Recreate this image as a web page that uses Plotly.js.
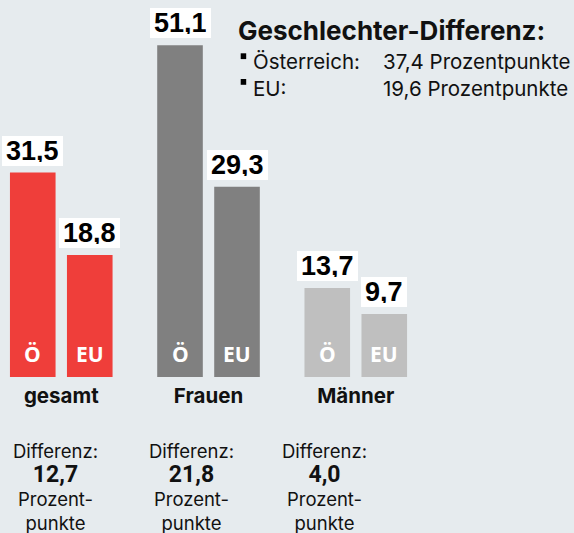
<!DOCTYPE html>
<html><head><meta charset="utf-8">
<script src="https://cdn.plot.ly/plotly-3.0.1.min.js"></script>
<style>html,body{margin:0;padding:0;background:#e6ebee;}</style>
</head><body><div id="chart" style="width:574px;height:533px;"></div>
<script>
const categories = ["gesamt", "Frauen", "Männer"];
const valuesAT = [31.5, 51.1, 13.7];
const valuesEU = [18.8, 29.3, 9.7];
const seriesLabels = ["Ö", "EU"];
const groupColors = ["#ef3e3a", "#808080", "#bfbfbf"];
const titleText = "Geschlechter-Differenz:";
const legendNames = ["Österreich:", "EU:"];
const unitText = "Prozentpunkte";

const W = 574, H = 533, PLOT_H = 377;
const BG = "#e6ebee";
const fmt = v => v.toFixed(1).replace(".", ",");
const px = x => x / W;
const py = y => 1 - y / PLOT_H;

const traces = [valuesAT, valuesEU].map((vals, s) => ({
  type: "bar",
  x: categories,
  y: vals,
  name: seriesLabels[s],
  marker: { color: groupColors },
  hoverinfo: "none",
  showlegend: false
}));

const annotations = [];
const SHIFT = 28.5;
[valuesAT, valuesEU].forEach((vals, s) => {
  vals.forEach((v, i) => {
    annotations.push({
      x: categories[i], y: v, xref: "x", yref: "y",
      xshift: s === 0 ? -SHIFT : SHIFT, yshift: 7,
      xanchor: "center", yanchor: "bottom",
      text: "<b>" + fmt(v) + "</b>", showarrow: false,
      font: { family: "Liberation Sans", size: 27, color: "#000" },
      bgcolor: "#ffffff", borderpad: 4, borderwidth: 0, height: 22
    });
    annotations.push({
      x: categories[i], y: 0, xref: "x", yref: "y",
      xshift: s === 0 ? -SHIFT : SHIFT, yshift: 8,
      xanchor: "center", yanchor: "bottom",
      text: "<b>" + seriesLabels[s] + "</b>", showarrow: false, borderpad: 0,
      font: { family: "Open Sans", size: 21, color: "#ffffff" }
    });
  });
});

// Differences below the groups
const diffX = [55.5, 191, 324];
categories.forEach((c, i) => {
  const d = valuesAT[i] - valuesEU[i];
  annotations.push({
    x: px(diffX[i]), y: py(438), xref: "paper", yref: "paper",
    xanchor: "center", yanchor: "top", align: "center", showarrow: false,
    text: "Differenz:<br><b><span style='font-size:23px;font-family:Roboto'>" + fmt(d) + "</span></b><br>Prozent-<br>punkte",
    font: { family: "Inter", size: 18.5, color: "#111" }
  });
});

// Title block
annotations.push({
  x: px(236), y: py(13), xref: "paper", yref: "paper",
  xanchor: "left", yanchor: "top", align: "left", showarrow: false,
  text: "<b>" + titleText + "</b>",
  font: { family: "Inter", size: 26, color: "#111" }
});
annotations.push({
  x: px(251), y: py(47), xref: "paper", yref: "paper",
  xanchor: "left", yanchor: "top", align: "left", showarrow: false,
  text: legendNames.join("<br>"),
  font: { family: "Inter", size: 20.5, color: "#111" }
});
const gapAT = valuesAT[1] - valuesAT[2];
const gapEU = valuesEU[1] - valuesEU[2];
annotations.push({
  x: px(381), y: py(47), xref: "paper", yref: "paper",
  xanchor: "left", yanchor: "top", align: "left", showarrow: false,
  text: [gapAT, gapEU].map(v => fmt(v) + " " + unitText).join("<br>"),
  font: { family: "Inter", size: 20.5, color: "#111" }
});

// bullet squares of the legend block
const shapes = [53.3, 79].map(y0 => ({
  type: "rect", xref: "paper", yref: "paper",
  x0: px(240.7), x1: px(246.2), y0: py(y0), y1: py(y0 + 5.8),
  fillcolor: "#000", line: { width: 0 }
}));

const layout = {
  width: W, height: H,
  margin: { l: 0, r: 0, t: 0, b: H - PLOT_H, pad: 0 },
  paper_bgcolor: BG, plot_bgcolor: BG,
  barmode: "group", bargap: 0.2258, bargroupgap: 0.2,
  xaxis: {
    type: "category", range: [-0.416, 3.482], fixedrange: true,
    showgrid: false, zeroline: false, showline: false, ticks: "",
    tickvals: categories, ticktext: categories.map(c => "<b>" + c + "</b>"),
    tickfont: { family: "Inter", size: 20.5, color: "#111" },
    ticklabelstandoff: 4
  },
  yaxis: { range: [0, 58.09], visible: false, fixedrange: true },
  annotations: annotations,
  shapes: shapes
};

Plotly.newPlot("chart", traces, layout, { staticPlot: true, displayModeBar: false });
</script></body></html>
